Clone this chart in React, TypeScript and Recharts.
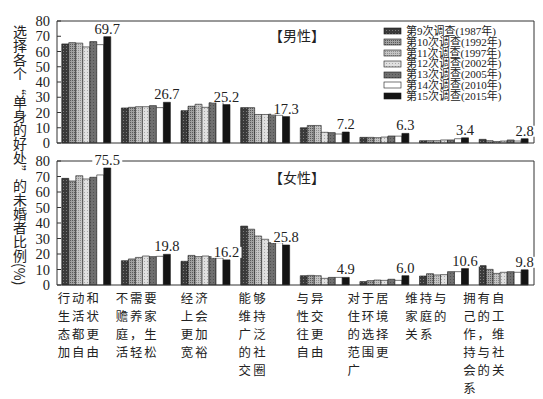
import React from "react";
import { BarChart, Bar, XAxis, YAxis, ReferenceLine, LabelList, Legend } from "recharts";

// category labels, split the way the original wraps them
const categoryLines = [
  ["行动和", "生活状", "态都更", "加自由"],
  ["不需要", "赡养家", "庭，生", "活轻松"],
  ["经济", "上会", "更加", "宽裕"],
  ["能够", "维持", "广泛", "的社", "交圈"],
  ["与异", "性交", "往更", "自由"],
  ["对于居", "住环境", "的选择", "范围更", "广"],
  ["维持与", "家庭的", "关系"],
  ["拥有自", "己的工", "作，维", "持与社", "会的关", "系"],
];
const categories = categoryLines.map((l) => l.join(""));

const surveys = [
  "第9次调查(1987年)",
  "第10次调查(1992年)",
  "第11次调查(1997年)",
  "第12次调查(2002年)",
  "第13次调查(2005年)",
  "第14次调查(2010年)",
  "第15次调查(2015年)",
];
const surveyKeys = ["s1987", "s1992", "s1997", "s2002", "s2005", "s2010", "s2015"];
const fills = ["url(#p1987)", "url(#p1992)", "url(#p1997)", "url(#p2002)", "url(#p2005)", "#ffffff", "#141414"];

const yTicks = [0, 10, 20, 30, 40, 50, 60, 70, 80];

// 男性
const male1987 = [65.0, 23.0, 21.2, 23.2, 10.0, 3.7, 1.5, 2.4];
const male1992 = [65.8, 23.4, 24.1, 23.2, 11.5, 3.7, 1.5, 1.5];
const male1997 = [65.5, 23.8, 25.4, 18.7, 11.5, 3.5, 1.5, 1.0];
const male2002 = [63.0, 23.8, 23.4, 18.7, 7.0, 3.9, 2.0, 1.3];
const male2005 = [66.5, 24.5, 26.4, 18.9, 6.8, 4.6, 2.0, 2.0];
const male2010 = [64.5, 23.2, 27.3, 18.2, 5.9, 4.5, 2.8, 1.3];
const male2015 = [69.7, 26.7, 25.2, 17.3, 7.2, 6.3, 3.4, 2.8];

// 女性
const female1987 = [68.8, 15.7, 15.3, 38.0, 6.0, 2.2, 5.8, 12.5];
const female1992 = [67.1, 16.8, 19.1, 36.0, 6.2, 2.8, 7.3, 10.1];
const female1997 = [70.5, 17.8, 18.3, 31.6, 6.0, 3.2, 6.5, 7.5];
const female2002 = [68.4, 18.7, 18.7, 29.5, 4.3, 3.0, 6.7, 8.2];
const female2005 = [69.5, 18.3, 18.3, 27.3, 4.9, 3.7, 8.6, 8.6];
const female2010 = [71.0, 18.5, 17.4, 27.3, 4.9, 3.0, 8.6, 8.2];
const female2015 = [75.5, 19.8, 16.2, 25.8, 4.9, 6.0, 10.6, 9.8];

const maleSeries = [male1987, male1992, male1997, male2002, male2005, male2010, male2015];
const femaleSeries = [female1987, female1992, female1997, female2002, female2005, female2010, female2015];

const NUM_FONT = '"Liberation Serif", "DejaVu Serif", serif';
const CJK_FONT = '"Liberation Serif", "Noto Sans CJK SC", serif';
const INK = "#222";

function buildRows(series: number[][]) {
  return categories.map((name, i) => {
    const row: Record<string, any> = { name };
    surveyKeys.forEach((k, j) => {
      row[k] = series[j][i];
    });
    return row;
  });
}

const maleRows = buildRows(maleSeries);
const femaleRows = buildRows(femaleSeries);

function ValueLabel(props: any) {
  const { x, y, width, value } = props;
  const cx = x + width / 2;
  const ty = y - 3;
  const text = Number(value).toFixed(1);
  const w = text.length * 7 + 2;
  return (
    <g>
      <rect x={cx - w / 2} y={ty - 10} width={w} height={11} fill="#fff" />
      <text x={cx} y={ty} textAnchor="middle" fontFamily={NUM_FONT} fontSize={14.5} fill={INK}>
        {text}
      </text>
    </g>
  );
}

function CategoryTick(props: any) {
  const { x, y, payload } = props;
  const i = categories.indexOf(payload.value);
  const lines = categoryLines[i] || [];
  const maxChars = Math.max(...lines.map((l) => l.length));
  const left = x - (maxChars * 14) / 2 - 8 - 1.7 * i;
  return (
    <g>
      {lines.map((l, k) => (
        <text
          key={k}
          x={left}
          y={y + 18 + k * 18}
          fontFamily='"Noto Sans CJK SC", sans-serif'
          fontSize={12.4}
          textLength={l.length * 14 - 1}
          lengthAdjust="spacing"
          fill={INK}
        >
          {l}
        </text>
      ))}
    </g>
  );
}

function LegendBox() {
  return (
    <div style={{ fontFamily: CJK_FONT, fontSize: 11, color: INK }}>
      {surveys.map((s, j) => (
        <div key={s} style={{ display: "flex", alignItems: "center", height: 10.8, whiteSpace: "nowrap" }}>
          <svg width={20} height={8} style={{ marginRight: 3 }}>
            <rect x={1} y={1} width={17} height={6} fill={fills[j]} stroke="#1a1a1a" strokeWidth={0.6} />
          </svg>
          <span style={{ lineHeight: "10.8px" }}>{s}</span>
        </div>
      ))}
    </div>
  );
}

function Panel({ rows, height, marginTop, xHeight, withLegend, withLabels }: any) {
  return (
    <BarChart
      width={543}
      height={height}
      data={rows}
      margin={{ top: marginTop, right: 8, bottom: 0, left: 0 }}
      barCategoryGap="8%"
      barGap={0}
    >
      <XAxis
        dataKey="name"
        interval={0}
        tickLine={false}
        tickSize={0}
        tickMargin={0}
        axisLine={{ stroke: "#333" }}
        height={xHeight}
        tick={withLabels ? <CategoryTick /> : false}
      />
      <YAxis
        domain={[0, 80]}
        ticks={yTicks}
        width={57}
        tickSize={-4}
        tickMargin={11}
        axisLine={{ stroke: "#333" }}
        tickLine={{ stroke: "#333" }}
        tick={{ fontFamily: NUM_FONT, fontSize: 14.5, fill: INK }}
        interval={0}
      />
      <YAxis yAxisId="right" orientation="right" domain={[0, 80]} width={1} tick={false} tickLine={false} axisLine={{ stroke: "#333" }} />
      <ReferenceLine y={80} stroke="#333" />
      {surveyKeys.map((k, j) => (
        <Bar key={k} dataKey={k} name={surveys[j]} fill={fills[j]} stroke="#1a1a1a" strokeWidth={0.6} isAnimationActive={false}>
          {j === surveyKeys.length - 1 && <LabelList dataKey={k} content={ValueLabel} />}
        </Bar>
      ))}
      {withLegend && (
        <Legend
          layout="vertical"
          align="center"
          verticalAlign="middle"
          content={() => <LegendBox />}
          wrapperStyle={{ position: "absolute", top: 26, left: 383, width: 150 }}
        />
      )}
    </BarChart>
  );
}

export default function App() {
  const titleStyle: React.CSSProperties = {
    position: "absolute",
    left: 269,
    fontFamily: '"Noto Sans CJK SC", sans-serif',
    fontSize: 14,
    color: INK,
    lineHeight: "16px",
  };
  return (
    <div style={{ position: "absolute", left: 0, top: 0, width: 543, height: 399, background: "#fff", overflow: "hidden" }}>
      <svg width={0} height={0} style={{ position: "absolute" }}>
        <defs>
          <pattern id="p1987" width={3} height={3} patternUnits="userSpaceOnUse">
            <rect width={3} height={3} fill="#3a3a3a" />
            <rect width={1} height={1} fill="#7a7a7a" />
          </pattern>
          <pattern id="p1992" width={2} height={2} patternUnits="userSpaceOnUse">
            <rect width={2} height={2} fill="#a0a0a0" />
            <rect width={1} height={1} fill="#5a5a5a" />
          </pattern>
          <pattern id="p1997" width={2} height={2} patternUnits="userSpaceOnUse">
            <rect width={2} height={2} fill="#c4c4c4" />
            <rect width={1} height={1} fill="#8e8e8e" />
          </pattern>
          <pattern id="p2002" width={3} height={3} patternUnits="userSpaceOnUse">
            <rect width={3} height={3} fill="#e0e0e0" />
            <rect width={1} height={1} fill="#a8a8a8" />
          </pattern>
          <pattern id="p2005" width={3} height={3} patternUnits="userSpaceOnUse">
            <rect width={3} height={3} fill="#707070" />
            <rect width={1} height={1} fill="#505050" />
          </pattern>
        </defs>
      </svg>
      <div style={{ position: "absolute", left: 0, top: 0 }}>
        <Panel rows={maleRows} height={150} marginTop={21} xHeight={7} withLegend withLabels={false} />
      </div>
      <div style={{ position: "absolute", left: 0, top: 150 }}>
        <Panel rows={femaleRows} height={249} marginTop={11} xHeight={114} withLegend={false} withLabels />
      </div>
      <div style={{ ...titleStyle, top: 27 }}>【男性】</div>
      <div style={{ ...titleStyle, top: 169 }}>【女性】</div>
      <div
        style={{
          position: "absolute",
          left: 11,
          top: 25,
          writingMode: "vertical-rl",
          fontFamily: '"Noto Sans CJK SC", sans-serif',
          fontSize: 14,
          lineHeight: "18px",
          color: INK,
        }}
      >
        选择各个“单身的好处”的未婚者比例(%)
      </div>
    </div>
  );
}
